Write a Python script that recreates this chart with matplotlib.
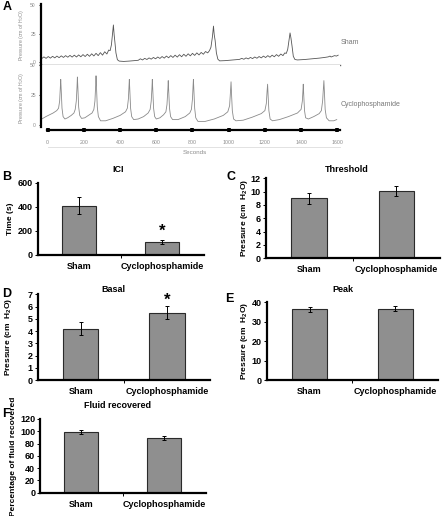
import matplotlib.pyplot as plt

plt.rcParams['font.family'] = ['Liberation Sans', 'DejaVu Sans']
plt.rcParams['mathtext.default'] = 'regular'

# panel A traces, (seconds, cm H2O)
sham_t = [-33, -21, -9, 3, 15, 27, 39, 51, 63, 75, 87, 99, 111, 123, 135, 147, 159, 171,
          183, 195, 207, 219, 231, 243, 255, 267, 279, 291, 303, 315, 327, 337, 345, 352,
          358, 363, 367, 371, 377, 385, 395, 420, 450, 480, 500,
          512, 524, 536, 548, 560, 572, 584, 596, 608, 620, 632, 644, 656, 668, 680, 692,
          704, 716, 728, 740, 752, 764, 776, 788, 800, 812, 824, 836, 848, 860, 872, 884,
          894, 902, 910, 916, 920, 925, 932, 940, 950, 980, 1010, 1040, 1060,
          1072, 1084, 1096, 1108, 1120, 1132, 1144, 1156, 1168, 1180, 1192, 1204, 1216,
          1228, 1240, 1252, 1264, 1276, 1288, 1300, 1310, 1318, 1326, 1332, 1339, 1344,
          1350, 1357, 1366, 1380, 1420, 1460, 1500, 1530, 1550, 1560, 1566, 1575, 1585,
          1595, 1605]
sham_p = [3.0, 4.5, 3.2, 4.8, 3.4, 5.0, 3.6, 5.2, 3.8, 5.4, 4.0, 5.6, 4.2, 5.8, 4.3, 6.0, 4.4, 6.2,
          4.6, 6.5, 4.8, 6.8, 5.0, 7.2, 5.3, 7.6, 5.6, 8.2, 6.0, 9.0, 7.0, 10.5, 10, 15,
          25, 32.5, 24, 18, 8, 2, 0.8, 0.5, 0.8, 1.2, 1.5,
          2.8, 1.8, 3.2, 2.2, 3.6, 2.5, 4.0, 2.8, 4.4, 3.1, 4.8, 3.4, 5.2, 3.7, 5.6, 4.0,
          6.0, 4.3, 6.4, 4.6, 6.8, 5.0, 7.2, 5.4, 7.6, 5.8, 8.0, 6.2, 8.4, 6.8, 9.2, 8.0,
          10, 13, 22, 31.5, 24, 19, 8, 2.5, 1.0, 1.2, 1.6, 2.0, 2.3,
          3.2, 2.4, 3.6, 2.7, 4.0, 3.0, 4.4, 3.3, 4.8, 3.6, 5.2, 3.9, 5.6,
          4.2, 6.0, 4.6, 6.5, 5.0, 7.0, 5.6, 8, 7.5, 11, 18, 25.5, 21,
          14, 5, 2.2, 1.8, 2.2, 2.8, 3.4, 4.0, 4.5, 5.2, 4.4, 5.0, 5.6,
          5.2, 6.0]

cyclo_t = [-33, -10, 10, 30, 50, 60, 66, 70, 72, 75, 79, 85, 95, 110, 130, 145, 152, 158,
           162, 164, 167, 171, 177, 187, 205, 225, 245, 255, 261, 265, 267, 270, 274, 280,
           292, 320, 360, 400, 430, 440, 446, 449, 451, 454, 458, 464, 475, 500, 530, 555,
           566, 572, 576, 578, 581, 585, 591, 600, 620, 640, 653, 659, 664, 666, 669, 673,
           679, 690, 720, 760, 785, 794, 800, 803, 805, 808, 812, 818, 830, 870, 920, 970,
           995, 1005, 1010, 1013, 1016, 1020, 1027, 1040, 1080, 1130, 1180, 1200, 1208,
           1212, 1215, 1218, 1222, 1229, 1242, 1280, 1330, 1380, 1400, 1407, 1410, 1412,
           1415, 1419, 1425, 1440, 1470, 1500, 1512, 1519, 1523, 1526, 1529, 1533, 1540,
           1555, 1580, 1597]
cyclo_p = [5, 7, 8.5, 10, 12, 14, 20, 32, 38, 28, 14, 7, 5, 6, 8, 10, 13, 20,
           32, 40, 30, 15, 8, 5.5, 6, 8, 10, 13, 20, 33, 41, 30, 15, 7,
           3.5, 3.5, 5.5, 8, 11, 14, 22, 32, 38, 28, 14, 7, 4.5, 5, 7, 10,
           13, 20, 31, 38, 28, 14, 7, 5, 6, 8.5, 11, 17, 30, 37, 27, 14,
           7, 4.5, 4.5, 7, 10, 13, 22, 32, 38, 28, 14, 6, 3, 3, 5, 8,
           11, 16, 28, 36, 25, 12, 5, 3.5, 4, 6.5, 9.5, 12, 18,
           28, 34, 24, 12, 5, 3.5, 4.5, 7, 10, 13, 20, 28, 34,
           24, 12, 6, 5, 7, 9.5, 12, 20, 30, 37, 27, 13, 6,
           3.5, 3.5, 4.5]

time_ticks = [0, 200, 400, 600, 800, 1000, 1200, 1400, 1600]

# panels B-F
groups = ['Sham', 'Cyclophosphamide']
ici_mean = [410, 110]
ici_err = [70, 15]
threshold_mean = [9.0, 10.1]
threshold_err = [0.85, 0.8]
basal_mean = [4.2, 5.5]
basal_err = [0.55, 0.55]
peak_mean = [36.4, 36.7]
peak_err = [1.4, 1.2]
fluid_mean = [99, 89]
fluid_err = [3, 4]

W, H = 442, 516
fig = plt.figure(figsize=(W / 100, H / 100), dpi=100)


def add_ax(x0, y0, x1, y1):
    return fig.add_axes([x0 / W, 1 - y1 / H, (x1 - x0) / W, (y1 - y0) / H])


def fig_text(x, y, s, **kw):
    fig.text(x / W, 1 - y / H, s, **kw)


# ---- panel A ----
xl = (-38.7, 1615)
grey = '#8c8c8c'

ax_s = add_ax(40.7, 4, 340, 65)
ax_s.plot(sham_t, sham_p, color='#555555', lw=0.6)
ax_s.set_xlim(xl)
ax_s.set_ylim(-2.63, 50.9)
ax_s.set_yticks([0, 25, 50])
ax_s.set_xticks([])
for s in ['top', 'right']:
    ax_s.spines[s].set_visible(False)
ax_s.spines['left'].set_linewidth(1.6)
ax_s.spines['bottom'].set_color('#666666')
ax_s.spines['bottom'].set_linewidth(1.0)
ax_s.tick_params(axis='y', length=1.5, width=0.6, labelsize=3.6, labelcolor=grey, pad=2)
ax_s.set_ylabel('Pressure (cm of H$_2$O)', fontsize=3.8, color=grey, labelpad=3)

ax_c = add_ax(40.7, 65, 340, 130)
ax_c.plot(cyclo_t, cyclo_p, color='#8a8a8a', lw=0.6)
ax_c.set_xlim(xl)
ax_c.set_ylim(-4.17, 50)
ax_c.set_yticks([0, 25, 50])
ax_c.set_xticks(time_ticks)
for s in ['top', 'right']:
    ax_c.spines[s].set_visible(False)
ax_c.spines['left'].set_linewidth(1.6)
ax_c.spines['left'].set_bounds(-2, 50)
ax_c.spines['bottom'].set_linewidth(1.6)
ax_c.spines['bottom'].set_bounds(-6, 1615)
ax_c.tick_params(axis='y', length=1.5, width=0.6, labelsize=3.6, labelcolor=grey, pad=2)
ax_c.tick_params(axis='x', direction='inout', length=2.6, width=2.6, labelsize=3.8,
                 labelcolor=grey, pad=6)
ax_c.set_ylabel('Pressure (cm of H$_2$O)', fontsize=3.8, color=grey, labelpad=3)
ax_c.set_xlabel('Seconds', fontsize=4.5, color=grey)
ax_c.xaxis.set_label_coords((195 - 40.7) / 299.3, (130 - 153) / 65)
ax_c.xaxis.label.set_va('center')
ax_c.plot([0.023, 1.0], [-0.26, -0.26], transform=ax_c.transAxes, color='#dddddd',
          lw=0.6, clip_on=False)

fig_text(341, 43, 'Sham', fontsize=5, color='#777777', va='center')
fig_text(341, 104, 'Cyclophosphamide', fontsize=5, color='#777777', va='center')
fig_text(3, 7, 'A', fontsize=9, fontweight='bold', va='center')


# ---- panels B-F ----
def bar_panel(box, means, errs, ylim, yticks, ylabel, title, title_xy, letter, letter_xy,
              ylabel_x, star=None):
    ax = add_ax(*box)
    ax.bar([0, 1], means, width=0.41, color='#8f8f8f', edgecolor='#2a2a2a', lw=0.8)
    ax.errorbar([0, 1], means, yerr=errs, fmt='none', ecolor='black', elinewidth=0.7,
                capsize=1.6, capthick=0.7)
    ax.set_xlim(-0.5, 1.5)
    ax.set_ylim(ylim)
    ax.set_yticks(yticks)
    ax.set_xticks([0, 1])
    ax.set_xticks([0.5], minor=True)
    ax.set_xticklabels(groups, fontsize=6.5, fontweight='bold')
    ax.set_yticklabels([str(v) for v in yticks], fontsize=6.5, fontweight='bold')
    for s in ['top', 'right']:
        ax.spines[s].set_visible(False)
    ax.spines['left'].set_linewidth(1.6)
    ax.spines['bottom'].set_linewidth(1.6)
    ax.tick_params(axis='y', length=2, width=0.7, pad=1.5)
    ax.tick_params(axis='x', which='major', length=0, pad=5)
    ax.tick_params(axis='x', which='minor', length=2.5, width=0.7)
    ax.set_ylabel(ylabel, fontsize=6, fontweight='bold')
    x0, y0, x1, y1 = box
    ax.yaxis.set_label_coords((ylabel_x - x0) / (x1 - x0), 0.5)
    ax.yaxis.label.set_va('center')
    fig_text(title_xy[0], title_xy[1], title, fontsize=6.5, fontweight='bold',
             ha='center', va='center')
    fig_text(letter_xy[0], letter_xy[1], letter, fontsize=9, fontweight='bold', va='center')
    if star is not None:
        ax.annotate('*', (1, means[1] + errs[1]), xytext=(0, star), textcoords='offset points',
                    ha='center', va='baseline', fontsize=12, fontweight='bold')
    return ax


bar_panel((37.7, 183, 204, 255), ici_mean, ici_err, (0, 600), [0, 200, 400, 600],
          'Time (s)', 'ICI', (118.5, 169), 'B', (2, 177), 10, star=3)
bar_panel((265.7, 178.3, 440, 258.3), threshold_mean, threshold_err, (0, 12),
          [0, 2, 4, 6, 8, 10, 12], 'Pressure (cm  H$_2$O)', 'Threshold', (346.5, 169),
          'C', (227, 177), 244)
bar_panel((37.7, 294.3, 210, 380), basal_mean, basal_err, (0, 7), [0, 1, 2, 3, 4, 5, 6, 7],
          'Pressure (cm  H$_2$O)', 'Basal', (113.5, 289.5), 'D', (2, 294), 9, star=1)
bar_panel((266.7, 302.3, 438, 380), peak_mean, peak_err, (0, 40), [0, 10, 20, 30, 40],
          'Pressure (cm  H$_2$O)', 'Peak', (343, 289.5), 'E', (225, 299), 244)
bar_panel((40, 419, 205.7, 492.7), fluid_mean, fluid_err, (0, 120),
          [0, 20, 40, 60, 80, 100, 120], 'Percentage of fluid recovered', 'Fluid recovered',
          (117, 406), 'F', (2, 414), 14)

fig.savefig('out.png', dpi=100)
